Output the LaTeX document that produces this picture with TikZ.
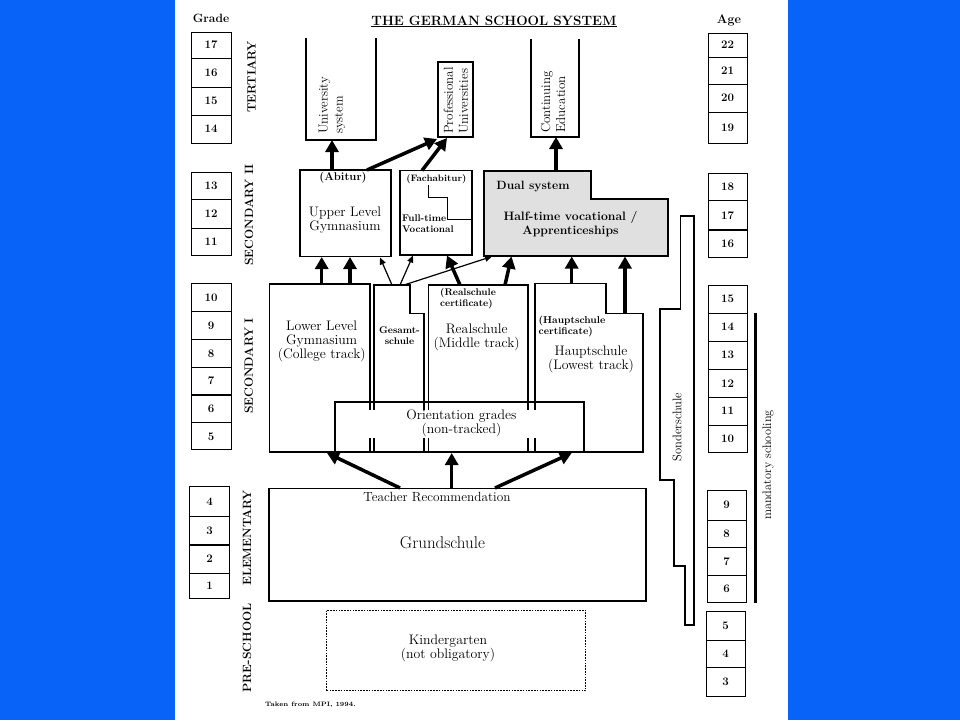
\documentclass[tikz,border=0pt]{standalone}
\usepackage{fontspec}
\usetikzlibrary{arrows.meta}
\definecolor{bgblue}{RGB}{8,100,248}
\definecolor{dualgray}{RGB}{224,224,224}
\begin{document}
\begin{tikzpicture}[x=1pt,y=-1pt,
 cell/.style={draw, line width=1pt, inner sep=0pt, outer sep=0pt, font=\fontsize{11.5}{12}\selectfont\bfseries},
 gcell/.style={cell, minimum width=40pt},
 acell/.style={cell, minimum width=39pt},
 box/.style={draw, line width=1.3pt, inner sep=0pt, outer sep=0pt},
 outline/.style={line width=1.3pt, line join=miter},
 lbl/.style={font=\fontsize{13.8}{14}\selectfont, align=center, inner sep=0pt},
 sml/.style={font=\fontsize{9.7}{11}\selectfont\bfseries, align=left, inner sep=0pt},
 stage/.style={font=\fontsize{12}{12}\selectfont\bfseries, rotate=90, inner sep=0pt},
 tert/.style={font=\fontsize{13}{15}\selectfont, rotate=90, align=left, inner sep=0pt, anchor=west},
 bigarrow/.style={line width=3.5pt, -{Triangle[width=13pt,length=12pt]}},
 thinarrow/.style={line width=1.2pt, -{Triangle[width=6pt,length=7pt]}}
]
\useasboundingbox (0,0) rectangle (960,720);
\fill[bgblue] (0,0) rectangle (960,720);
\fill[white] (175,0) rectangle (788,720);

% headers
\node[font=\fontsize{12}{12}\selectfont\bfseries, inner sep=0pt] (hgrade) at (211,18) {Grade};
\node[font=\fontsize{12.5}{12}\selectfont\bfseries, inner sep=0pt] (hage) at (729,20) {Age};
\node[font=\fontsize{13.5}{14}\selectfont\bfseries, inner sep=0pt, anchor=base] (title) at (494,25) {THE GERMAN SCHOOL SYSTEM};
\draw[line width=0.9pt] ([yshift=-1.8pt]title.base west) -- ([yshift=-1.8pt]title.base east);

% grade column
\node[gcell, minimum height=26pt] (g17) at (211,45) {17};
\node[gcell, minimum height=29pt] (g16) at (211,72.5) {16};
\node[gcell, minimum height=28pt] (g15) at (211,101) {15};
\node[gcell, minimum height=28pt] (g14) at (211,129) {14};
\node[gcell, minimum height=26.3pt] (g13) at (211,186) {13};
\node[gcell, minimum height=29pt] (g12) at (211,213.5) {12};
\node[gcell, minimum height=27.7pt] (g11) at (211,242) {11};
\node[gcell, minimum height=28.3pt] (g10) at (211,297.5) {10};
\node[gcell, minimum height=27.6pt] (g9) at (211,325.5) {9};
\node[gcell, minimum height=28pt] (g8) at (211,353.3) {8};
\node[gcell, minimum height=27.7pt] (g7) at (211,381) {7};
\node[gcell, minimum height=27.7pt] (g6) at (211,409) {6};
\node[gcell, minimum height=27.3pt] (g5) at (211,436.3) {5};
\node[gcell, minimum height=30pt] (g4) at (209.5,501.7) {4};
\node[gcell, minimum height=28.3pt] (g3) at (209.5,531) {3};
\node[gcell, minimum height=28.3pt] (g2) at (209.5,559) {2};
\node[gcell, minimum height=25pt] (g1) at (209.5,586) {1};

% age column
\node[acell, minimum height=24pt] (a22) at (727.5,45) {22};
\node[acell, minimum height=27pt] (a21) at (727.5,70.5) {21};
\node[acell, minimum height=28pt] (a20) at (727.5,98) {20};
\node[acell, minimum height=31pt] (a19) at (727.5,127.5) {19};
\node[acell, minimum height=27.4pt] (a18) at (727.5,187) {18};
\node[acell, minimum height=29.3pt] (a17) at (727.5,215.3) {17};
\node[acell, minimum height=27.3pt] (a16) at (727.5,243.7) {16};
\node[acell, minimum height=28.3pt] (a15) at (727.5,299.2) {15};
\node[acell, minimum height=27.7pt] (a14) at (727.5,327.2) {14};
\node[acell, minimum height=28.3pt] (a13) at (727.5,355.2) {13};
\node[acell, minimum height=28pt] (a12) at (727.5,383.3) {12};
\node[acell, minimum height=27.7pt] (a11) at (727.5,411.2) {11};
\node[acell, minimum height=27.7pt] (a10) at (727.5,438.9) {10};
\node[acell, minimum height=30pt] (a9) at (726.5,505) {9};
\node[acell, minimum height=27.7pt] (a8) at (726.5,533.9) {8};
\node[acell, minimum height=28pt] (a7) at (726.5,561.7) {7};
\node[acell, minimum height=27pt] (a6) at (726.5,589.2) {6};
\node[acell, minimum height=28.3pt] (a5) at (725.5,625.9) {5};
\node[acell, minimum height=27.3pt] (a4) at (725.5,653.7) {4};
\node[acell, minimum height=28.7pt] (a3) at (725.5,681.7) {3};

% stage labels
\node[stage] (tertl) at (251.5,77) {TERTIARY};
\node[stage] (sec2l) at (249,215) {SECONDARY II};
\node[stage] (sec1l) at (248.7,366) {SECONDARY I};
\node[stage] (eleml) at (247,538) {ELEMENTARY};
\node[stage] (prel) at (247,648) {PRE-SCHOOL};

% tertiary
\node[inner sep=0pt, outer sep=0pt, minimum width=70pt, minimum height=102pt] (univ) at (341,89) {};
\draw[outline] (univ.north west) -- (univ.south west) -- (univ.south east) -- (univ.north east);
\node[tert] (univt) at (332,134) {University\\system};
\node[box, minimum width=35pt, minimum height=75pt] (prof) at (455.5,99.5) {};
\node[tert] (proft) at (456,134) {Professional\\Universities};
\node[inner sep=0pt, outer sep=0pt, minimum width=48pt, minimum height=98pt] (cont) at (555,88) {};
\draw[outline] (cont.north west) -- (cont.south west) -- (cont.south east) -- (cont.north east);
\node[tert] (contt) at (553,133) {Continuing\\Education};

% secondary II
\node[box, minimum width=91pt, minimum height=86.7pt] (ugym) at (345.5,213.3) {};
\node[font=\fontsize{11.3}{12}\selectfont\bfseries, inner sep=0pt] (abitur) at (343,178) {(Abitur)};
\node[lbl] (ugymt) at (345,220) {Upper Level\\Gymnasium};

\node[box, minimum width=72pt, minimum height=84.5pt] (fach) at (436,212.75) {};
\draw[line width=1pt] (428.3,185) -- (428.3,197.3) -- (447.3,197.3) -- (447.3,219) -- (472,219);
\node[font=\fontsize{9.3}{10}\selectfont\bfseries, inner sep=0pt] (fachab) at (436.3,179) {(Fachabitur)};
\node[sml, anchor=west] (fullt) at (402,224) {Full-time\\Vocational};

\node[inner sep=0pt, outer sep=0pt, minimum width=184pt, minimum height=85pt] (dual) at (576,213.5) {};
\draw[outline, fill=dualgray] (dual.north west) -- (591,171) -- (591,199) -- (668,199) -- (dual.south east) -- (dual.south west) -- cycle;
\node[font=\fontsize{12}{12}\selectfont\bfseries, inner sep=0pt] (dualt) at (533,187) {Dual system};
\node[font=\fontsize{12.2}{14}\selectfont\bfseries, align=center, inner sep=0pt] (halft) at (570.5,223.7) {Half-time vocational /\\Apprenticeships};

% secondary I
\node[box, minimum width=100.7pt, minimum height=168pt] (lgym) at (319.65,368) {};
\draw[outline] (374,285) -- (410,285) -- (410,313.3) -- (424,313.3) -- (424,452) -- (374,452) -- cycle;
\node[box, minimum width=99.3pt, minimum height=167pt] (real) at (478.35,368.5) {};
\draw[outline] (535,283.3) -- (606,283.3) -- (606,313.3) -- (643,313.3) -- (643,452) -- (535,452) -- cycle;
\fill[white] (366,410) rectangle (540,438);
\node[box, minimum width=249pt, minimum height=50pt] (orient) at (459.5,427) {};

\node[lbl] (lgymt) at (321.7,341) {Lower Level\\Gymnasium\\(College track)};
\node[font=\fontsize{9.7}{11}\selectfont\bfseries, align=center, inner sep=0pt] (gest) at (399.5,335.5) {Gesamt-\\schule};
\node[sml, anchor=west] (realcert) at (440,299) {(Realschule\\certificate)};
\node[lbl] (realt) at (476.7,337.3) {Realschule\\(Middle track)};
\node[sml, font=\fontsize{10}{11.6}\selectfont\bfseries, anchor=west] (hauptcert) at (538.5,326.5) {(Hauptschule\\certificate)};
\node[lbl] (hauptt) at (591,359.7) {Hauptschule\\(Lowest track)};
\node[lbl] (orientt) at (461.5,423.7) {Orientation grades\\(non-tracked)};

% elementary & pre-school
\node[box, minimum width=377pt, minimum height=112.5pt] (grund) at (457.5,544.75) {};
\node[font=\fontsize{13.3}{14}\selectfont, inner sep=0pt] (teach) at (437,496.7) {Teacher Recommendation};
\node[font=\fontsize{17}{18}\selectfont, inner sep=0pt] (grundt) at (442.5,543) {Grundschule};
\node[draw, line width=1pt, dash pattern=on 1.6pt off 1.2pt, inner sep=0pt, minimum width=259pt, minimum height=80.7pt] (kinder) at (456.2,650.35) {};
\node[lbl] (kindt) at (448,648) {Kindergarten\\(not obligatory)};

% Sonderschule
\draw[outline] (680.7,216) -- (694,216) -- (694,625) -- (685,625) -- (685,566) -- (674,566) -- (674,480) -- (660,480) -- (660,309) -- (680.7,309) -- cycle;
\node[font=\fontsize{12.5}{12}\selectfont, rotate=90, inner sep=0pt] (sonder) at (677,427) {Sonderschule};

% mandatory schooling
\coordinate (mtop) at (755.7,312.7);
\coordinate (mbot) at (755.7,602.7);
\draw[line width=3.5pt] (mtop) -- (mbot);
\node[font=\fontsize{12.3}{12}\selectfont, rotate=90, inner sep=0pt] (mand) at (768,465) {mandatory schooling};

\node[font=\fontsize{6.4}{8}\selectfont\bfseries, inner sep=0pt, anchor=west] (src) at (265,705) {Taken from MPI, 1994.};

% connector end points
\coordinate (abA) at (332,170);   \coordinate (unB) at (332,140);
\coordinate (abC) at (367,170);   \coordinate (prA) at (437,139);
\coordinate (faA) at (422,170.5); \coordinate (prB) at (447,138);
\coordinate (duA) at (556,171);   \coordinate (coB) at (556,137);
\coordinate (lgA) at (321.7,284); \coordinate (ugA) at (321.7,257);
\coordinate (lgB) at (350,284);   \coordinate (ugB) at (350,257);
\coordinate (geA) at (392,285);   \coordinate (ugC) at (380,257.5);
\coordinate (geB) at (400,285);   \coordinate (faB) at (413,255.5);
\coordinate (geC) at (404,285);   \coordinate (duB) at (492,256.5);
\coordinate (reA) at (460,285);   \coordinate (faC) at (447,255.5);
\coordinate (reB) at (505,285);   \coordinate (duC) at (511.5,256.5);
\coordinate (haA) at (571.7,283.3); \coordinate (duD) at (571.7,256.5);
\coordinate (haB) at (625,313.3); \coordinate (duE) at (625,256.5);
\coordinate (grA) at (400,488);   \coordinate (lgC) at (327,453);
\coordinate (grB) at (451.7,488.5); \coordinate (orA) at (451.7,453);
\coordinate (grC) at (495,488);   \coordinate (haC) at (571.7,453);

% arrows
\draw[bigarrow] (abA) -- (unB);
\draw[bigarrow] (abC) -- (prA);
\draw[bigarrow] (faA) -- (prB);
\draw[bigarrow] (duA) -- (coB);
\draw[bigarrow] (lgA) -- (ugA);
\draw[bigarrow] (lgB) -- (ugB);
\draw[thinarrow] (geA) -- (ugC);
\draw[thinarrow] (geB) -- (faB);
\draw[thinarrow] (geC) -- (duB);
\draw[bigarrow] (reA) -- (faC);
\draw[bigarrow] (reB) -- (duC);
\draw[bigarrow] (haA) -- (duD);
\draw[bigarrow] (haB) -- (duE);
\draw[bigarrow] (grA) -- (lgC);
\draw[bigarrow] (grB) -- (orA);
\draw[bigarrow] (grC) -- (haC);
\end{tikzpicture}
\end{document}
